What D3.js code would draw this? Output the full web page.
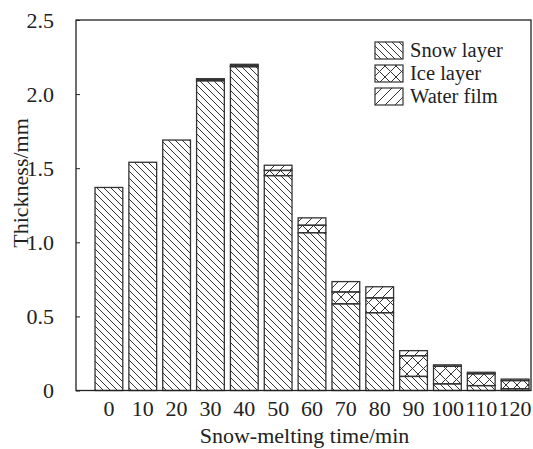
<!DOCTYPE html>
<html>
<head>
<meta charset="utf-8">
<script src="https://cdn.jsdelivr.net/npm/d3@7"></script>
<style>
  html, body { margin: 0; padding: 0; background: #fff; }
  svg { display: block; font-family: "Liberation Serif", "Times New Roman", serif; }
</style>
</head>
<body>
<svg id="chart" width="533" height="449"></svg>
<script>
// ---- data ----
const categories = ["0","10","20","30","40","50","60","70","80","90","100","110","120"];
const snowLayer  = [1.37, 1.54, 1.69, 2.09, 2.185, 1.45, 1.065, 0.585, 0.525, 0.095, 0.045, 0.033, 0.012];
const iceLayer   = [0, 0, 0, 0.006, 0.006, 0.035, 0.05, 0.08, 0.10, 0.14, 0.118, 0.08, 0.055];
const waterFilm  = [0, 0, 0, 0.008, 0.01, 0.035, 0.05, 0.07, 0.075, 0.034, 0.01, 0.01, 0.01];
const seriesNames = ["Snow layer", "Ice layer", "Water film"];
const yTicks = [0, 0.5, 1.0, 1.5, 2.0, 2.5];
const yTickLabels = ["0", "0.5", "1.0", "1.5", "2.0", "2.5"];

// ---- layout ----
const svg = d3.select("#chart");
const mLeft = 76, mRight = 531, mTop = 20, mBottom = 390.5;
const ink = "#222";
const fs = 22;

const x = d3.scaleBand().domain(categories).range([93, mRight]).paddingInner(0.18).paddingOuter(0.06);
const y = d3.scaleLinear().domain([0, 2.5]).range([mBottom, mTop]);

// ---- patterns ----
const defs = svg.append("defs");
function pat(id, size, d) {
  defs.append("pattern").attr("id", id).attr("patternUnits", "userSpaceOnUse")
    .attr("width", size).attr("height", size)
    .append("path").attr("d", d).attr("stroke", "#333").attr("stroke-width", 1).attr("fill", "none");
}
pat("snow", 7, "M-1,-1 L8,8 M-1,6 L1,8 M6,-1 L8,1");
pat("water", 10, "M-1,11 L11,-1 M-1,1 L1,-1 M9,11 L11,9");
pat("ice", 11, "M-1,-1 L12,12 M-1,10 L1,12 M10,-1 L12,1 M-1,12 L12,-1 M-1,1 L1,-1 M10,12 L12,10");
const fills = ["url(#snow)", "url(#ice)", "url(#water)"];

// ---- stacked data ----
const rows = categories.map((c, i) => ({ cat: c, s0: snowLayer[i], s1: iceLayer[i], s2: waterFilm[i] }));
const stack = d3.stack().keys(["s0", "s1", "s2"])(rows);

stack.forEach((layer, k) => {
  svg.append("g").selectAll("rect").data(layer).join("rect")
    .attr("x", d => x(d.data.cat))
    .attr("width", x.bandwidth())
    .attr("y", d => y(d[1]))
    .attr("height", d => Math.max(0, y(d[0]) - y(d[1])))
    .attr("fill", fills[k])
    .attr("stroke", "#333")
    .attr("stroke-width", 1.3);
});

// ---- frame / axes ----
svg.append("rect").attr("x", mLeft).attr("y", mTop).attr("width", mRight - mLeft).attr("height", mBottom - mTop)
  .attr("fill", "none").attr("stroke", ink).attr("stroke-width", 1.3);

const yAxis = d3.axisLeft(y).tickValues(yTicks).tickFormat((d, i) => yTickLabels[i]).tickSize(-4).tickPadding(22);
const gy = svg.append("g").attr("transform", `translate(${mLeft},0)`).call(yAxis);
gy.select(".domain").remove();
gy.selectAll(".tick line").attr("stroke", ink).attr("stroke-width", 1);
gy.selectAll("text").attr("font-size", fs).attr("fill", ink).attr("font-family", "Liberation Serif");

const xAxis = d3.axisBottom(x).tickSize(0).tickPadding(10);
const gx = svg.append("g").attr("transform", `translate(0,${mBottom})`).call(xAxis);
gx.select(".domain").remove();
gx.selectAll("text").attr("font-size", fs).attr("fill", ink).attr("font-family", "Liberation Serif");

// ---- axis titles ----
svg.append("text").attr("x", (mLeft + mRight) / 2 + 1).attr("y", 443).attr("text-anchor", "middle")
  .attr("font-size", fs).attr("fill", ink).text("Snow-melting time/min");
svg.append("text").attr("transform", "translate(28,183) rotate(-90)").attr("text-anchor", "middle")
  .attr("font-size", fs).attr("fill", ink).text("Thickness/mm");

// ---- legend ----
const legendOrder = [0, 1, 2];
const lg = svg.append("g");
legendOrder.forEach((k, i) => {
  const cy = 50 + i * 23;
  lg.append("rect").attr("x", 375).attr("y", cy - 8).attr("width", 28).attr("height", 17)
    .attr("fill", fills[k]).attr("stroke", "#333").attr("stroke-width", 1.2);
  lg.append("text").attr("x", 410).attr("y", cy + 7).attr("font-size", 20.5).attr("fill", ink)
    .text(seriesNames[k]);
});
</script>
</body>
</html>
